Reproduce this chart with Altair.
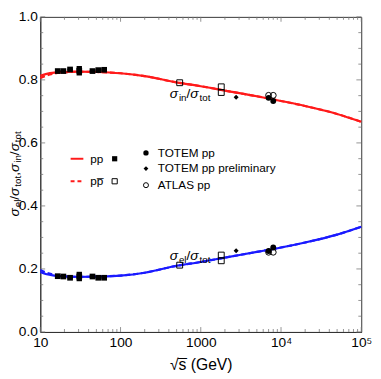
import altair as alt
import pandas as pd

FONT = "Liberation Sans"
W, H = 328, 322

# ---- model curves ----
s_curve = [10, 12, 15, 20, 30, 50, 100, 200, 500, 1000, 2000, 5000, 10000, 20000, 50000, 100000]
inel_pp = [0.813, 0.819, 0.823, 0.825, 0.826, 0.825, 0.821, 0.812, 0.792, 0.780, 0.766, 0.748, 0.733, 0.717, 0.692, 0.667]
el_pp = [0.190, 0.183, 0.179, 0.176, 0.175, 0.176, 0.179, 0.188, 0.210, 0.222, 0.236, 0.254, 0.268, 0.284, 0.309, 0.334]
inel_ppbar = [0.806, 0.814, 0.820, 0.824, 0.826, 0.825, 0.821, 0.812, 0.792, 0.780, 0.766, 0.748, 0.733, 0.717, 0.692, 0.667]
el_ppbar = [0.197, 0.188, 0.182, 0.177, 0.175, 0.176, 0.179, 0.188, 0.210, 0.222, 0.236, 0.254, 0.268, 0.284, 0.309, 0.334]

# ---- data points ----
isr_s = [16.5, 19.4, 23.5, 30.6, 44.7, 52.8, 62.5]
isr_inel = [0.828, 0.828, 0.833, 0.829, 0.828, 0.831, 0.832]
isr_el = [0.177, 0.176, 0.172, 0.176, 0.176, 0.172, 0.172]
isr_err = [0.003, 0.003, 0.003, 0.015, 0.003, 0.003, 0.005]

ppbar_s = [546, 1800, 1800]
ppbar_inel = [0.791, 0.778, 0.760]
ppbar_el = [0.212, 0.244, 0.226]

totem_s = [7000, 8000]
totem_inel = [0.743, 0.733]
totem_el = [0.257, 0.268]

prelim_s = [2760]
prelim_inel = [0.745]
prelim_el = [0.258]

atlas_s = [7000, 8000]
atlas_inel = [0.751, 0.751]
atlas_el = [0.253, 0.253]

x_tick_values = [10, 100, 1000, 10000, 100000]
x_tick_labels = ["10", "100", "1000", "10⁴", "10⁵"]
y_tick_values = [0.0, 0.2, 0.4, 0.6, 0.8, 1.0]

label_expr = " : ".join(
    [f"datum.value == {v} ? '{l}'" for v, l in zip(x_tick_values, x_tick_labels)]
) + " : ''"

xscale = alt.Scale(type="log", domain=[10, 100000], nice=False)
yscale = alt.Scale(domain=[0, 1], nice=False, zero=False)
xaxis = alt.Axis(values=x_tick_values, labelExpr=label_expr, ticks=False, grid=False,
                 labelFont=FONT, labelFontSize=14, labelColor="black", labelPadding=4,
                 domainColor="#333", title="√s̅  (GeV)", titleFont=FONT, titleFontSize=16,
                 titleFontWeight="normal", titleColor="black", titlePadding=7, labelFlush=False)
yaxis = alt.Axis(values=y_tick_values, format=".1f", ticks=False, grid=False, title=None,
                 labelFont=FONT, labelFontSize=14, labelColor="black", labelPadding=3,
                 domainColor="#333")


def X(f="s"):
    return alt.X(f"{f}:Q", scale=xscale, axis=xaxis)


def Y(f="v"):
    return alt.Y(f"{f}:Q", scale=yscale, axis=yaxis)


dummy = pd.DataFrame({"a": [0]})
layers = []

# ---- frame ticks (inward) ----
x_major = [10, 100, 1000, 10000, 100000]
x_minor = [k * 10 ** d for d in range(1, 5) for k in range(2, 10)]
y_major = [0.0, 0.2, 0.4, 0.6, 0.8, 1.0]
y_minor = [round(i * 0.05, 2) for i in range(21) if i % 4 != 0]
tick_col = "#777"
for vals, ln in ((x_major, 5), (x_minor, 3)):
    df = pd.DataFrame({"s": vals})
    layers.append(alt.Chart(df).mark_rule(color=tick_col, strokeWidth=0.8).encode(
        x=X(), y=alt.value(H), y2=alt.value(H - ln)))
    layers.append(alt.Chart(df).mark_rule(color=tick_col, strokeWidth=0.8).encode(
        x=X(), y=alt.value(0), y2=alt.value(ln)))
for vals, ln in ((y_major, 5), (y_minor, 3)):
    df = pd.DataFrame({"v": vals})
    layers.append(alt.Chart(df).mark_rule(color=tick_col, strokeWidth=0.8).encode(
        y=Y(), x=alt.value(0), x2=alt.value(ln)))
    layers.append(alt.Chart(df).mark_rule(color=tick_col, strokeWidth=0.8).encode(
        y=Y(), x=alt.value(W), x2=alt.value(W - ln)))

# ---- curves ----
curves = [
    (inel_ppbar, "#ff1a1a", [5, 3]),
    (el_ppbar, "#1a1aff", [5, 3]),
    (inel_pp, "#ff1a1a", None),
    (el_pp, "#1a1aff", None),
]
for vals, col, dash in curves:
    df = pd.DataFrame({"s": s_curve, "v": vals})
    kw = dict(color=col, strokeWidth=2.2, interpolate="monotone")
    if dash:
        kw["strokeDash"] = dash
    layers.append(alt.Chart(df).mark_line(**kw).encode(x=X(), y=Y()))

# ---- points ----
for vals in (isr_inel, isr_el):
    df = pd.DataFrame({"s": isr_s, "v": vals,
                       "lo": [v - e for v, e in zip(vals, isr_err)],
                       "hi": [v + e for v, e in zip(vals, isr_err)]})
    layers.append(alt.Chart(df).mark_rule(color="black", strokeWidth=5.5).encode(
        x=X(), y=Y("lo"), y2="hi:Q"))
    layers.append(alt.Chart(df).mark_point(shape="square", filled=True, size=34,
                                           color="black", opacity=1).encode(x=X(), y=Y()))

for vals in (ppbar_inel, ppbar_el):
    df = pd.DataFrame({"s": ppbar_s, "v": vals})
    layers.append(alt.Chart(df).mark_point(shape="square", filled=False, size=36,
                                           color="black", strokeWidth=1, opacity=1).encode(x=X(), y=Y()))
for vals in (prelim_inel, prelim_el):
    df = pd.DataFrame({"s": prelim_s, "v": vals})
    layers.append(alt.Chart(df).mark_point(shape="diamond", filled=True, size=26,
                                           color="black", opacity=1).encode(x=X(), y=Y()))
for vals in (totem_inel, totem_el):
    df = pd.DataFrame({"s": totem_s, "v": vals})
    layers.append(alt.Chart(df).mark_point(shape="circle", filled=True, size=36,
                                           color="black", opacity=1).encode(x=X(), y=Y()))
for vals in (atlas_inel, atlas_el):
    df = pd.DataFrame({"s": atlas_s, "v": vals})
    layers.append(alt.Chart(df).mark_point(shape="circle", filled=False, size=36,
                                           color="black", strokeWidth=1, opacity=1).encode(x=X(), y=Y()))

# ---- composed text (sigma with subscripts) ----
CW = {"σ": 0.60, "e": 0.556, "l": 0.222, "t": 0.278, "o": 0.556, "i": 0.222,
      "n": 0.556, "/": 0.278, ",": 0.278}


def pieces(spec, big, small, sub):
    out, off = [], 0.0
    for txt, kind in spec:
        if kind == "g":
            out.append((txt, big, "italic", off, 0))
            off += big * CW["σ"] + 1
        elif kind == "s":
            out.append((txt, small, "normal", off, sub))
            off += sum(CW[c] for c in txt) * small
        else:
            out.append((txt, big, "normal", off, 0))
            off += sum(CW[c] for c in txt) * big
    return out


inel_lab = [("σ", "g"), ("in", "s"), ("/", "n"), ("σ", "g"), ("tot", "s")]
el_lab = [("σ", "g"), ("el", "s"), ("/", "n"), ("σ", "g"), ("tot", "s")]
ylab = [("σ", "g"), ("el", "s"), ("/", "n"), ("σ", "g"), ("tot", "s"), (",", "n"),
        ("σ", "g"), ("in", "s"), ("/", "n"), ("σ", "g"), ("tot", "s")]

annot_s = [410, 410]
annot_v = [0.742, 0.228]
for lab, s0, v0 in ((inel_lab, annot_s[0], annot_v[0]), (el_lab, annot_s[1], annot_v[1])):
    df = pd.DataFrame({"s": [s0], "v": [v0]})
    for txt, fs, st, off, sub in pieces(lab, 14, 10, 3):
        layers.append(alt.Chart(df).mark_text(
            text=txt, font=FONT, fontSize=fs, fontStyle=st, align="left",
            baseline="alphabetic", dx=off, dy=sub, color="black").encode(x=X(), y=Y()))

for txt, fs, st, off, sub in pieces(ylab, 14, 10, 2.5):
    layers.append(alt.Chart(dummy).mark_text(
        text=txt, font=FONT, fontSize=fs, fontStyle=st, align="left", angle=270,
        baseline="alphabetic", dx=off, dy=sub, color="black").encode(
        x=alt.value(-22), y=alt.value(204)))

# ---- manual legend ----
leg = []
leg.append(alt.Chart(dummy).mark_rule(color="#ff1a1a", strokeWidth=2).encode(
    x=alt.value(31), x2=alt.value(44), y=alt.value(145)))
leg.append(alt.Chart(dummy).mark_rule(color="#ff1a1a", strokeWidth=2, strokeDash=[4, 3]).encode(
    x=alt.value(31), x2=alt.value(45), y=alt.value(168)))
for txt, xx, yy in (("pp", 51, 145), ("pp̅", 51, 168), ("TOTEM pp", 120, 139),
                    ("TOTEM pp preliminary", 120, 155), ("ATLAS pp", 120, 172)):
    leg.append(alt.Chart(dummy).mark_text(text=txt, font=FONT, fontSize=12, align="left",
                                          baseline="middle", color="black").encode(
        x=alt.value(xx), y=alt.value(yy)))
for shape, filled, size, xx, yy in (("square", True, 28, 76, 145), ("square", False, 28, 76, 168),
                                    ("circle", True, 30, 108, 139), ("diamond", True, 24, 108, 155),
                                    ("circle", False, 26, 108, 172)):
    leg.append(alt.Chart(dummy).mark_point(shape=shape, filled=filled, size=size, color="black",
                                           strokeWidth=1, opacity=1).encode(
        x=alt.value(xx), y=alt.value(yy)))
layers.extend(leg)

chart = alt.layer(*layers).properties(
    width=W, height=H, autosize=alt.AutoSizeParams(type="none"),
    padding={"left": 33, "top": 5, "right": 12, "bottom": 44},
    background="white",
).configure_view(stroke="#333", strokeWidth=1)

chart.save("out.html", embed_options={"renderer": "svg", "actions": False})
